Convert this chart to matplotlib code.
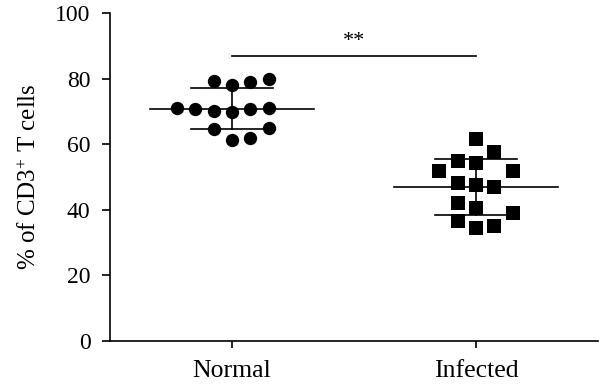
import numpy as np
import matplotlib
matplotlib.use("Agg")
import matplotlib.pyplot as plt

plt.rcParams['font.family'] = ['Liberation Serif', 'DejaVu Serif']
plt.rcParams['mathtext.fontset'] = 'custom'
plt.rcParams['mathtext.rm'] = 'Liberation Serif'
plt.rcParams['mathtext.it'] = 'Liberation Serif:italic'

# % of CD3+ T cells per animal
groups = ["Normal", "Infected"]
normal = [61.3, 61.9, 64.6, 64.9, 69.8, 70.7, 70.1, 71.0, 70.7, 71.0,
          78.0, 79.0, 79.3, 79.9]
infected = [61.6, 54.3, 57.6, 54.9, 47.6, 47.0, 48.2, 51.8, 51.8, 40.5,
            34.5, 35.1, 36.6, 39.0, 42.1]
sig_label = "**"
yticks = [0, 20, 40, 60, 80, 100]

SLOT_ORDER = [0, 1, -1, 2, -2, -3, 3, -4, 4]
SLOT_W = 0.075   # horizontal step between dots (x units)
MIN_DY = 5.0     # dots closer than this in y cannot share a column


def swarm(values):
    # greedy column layout, like a prism scatter dot plot
    taken = {}
    offs = []
    for v in values:
        for s in SLOT_ORDER:
            if all(abs(v - u) >= MIN_DY for u in taken.get(s, [])):
                taken.setdefault(s, []).append(v)
                offs.append(s * SLOT_W)
                break
    return np.array(offs)


fig = plt.figure(figsize=(6, 3.88), dpi=100)
ax = fig.add_axes([110 / 600, 47 / 388, 488 / 600, 328 / 388])

for i, (vals, mk, ms) in enumerate([(normal, 'o', 9.6), (infected, 's', 9.4)]):
    vals = np.array(vals)
    m, sd = vals.mean(), vals.std(ddof=1)
    ax.plot([i - 0.335, i + 0.335], [m, m], color='black', lw=1.2, zorder=2)
    ax.plot([i, i], [m - sd, m + sd], color='black', lw=1.2, zorder=2)
    for y in (m - sd, m + sd):
        ax.plot([i - 0.17, i + 0.17], [y, y], color='black', lw=1.2, zorder=2)
    ax.plot(i + swarm(vals), vals, mk, color='black', ms=ms, mew=0,
            linestyle='none', zorder=3)

# significance bar
ax.plot([0, 1], [87, 87], color='black', lw=1.2)
ax.text(0.5, 88.3, sig_label, ha='center', va='bottom', fontsize=16)

ax.set_xlim(-0.5, 1.5)
ax.set_ylim(0, 100)
ax.set_xticks(range(len(groups)))
ax.set_xticklabels(groups, fontsize=18.5)
ax.set_yticks(yticks)
ax.tick_params(axis='y', labelsize=17, length=6, width=1.2, pad=8)
ax.tick_params(axis='x', length=5, width=1.2, pad=9)
ax.set_ylabel("% of CD3$^{+}$ T cells", fontsize=18, labelpad=10)

for side in ('top', 'right'):
    ax.spines[side].set_visible(False)
for side in ('left', 'bottom'):
    ax.spines[side].set_linewidth(1.2)

fig.savefig("out.png", dpi=100)
